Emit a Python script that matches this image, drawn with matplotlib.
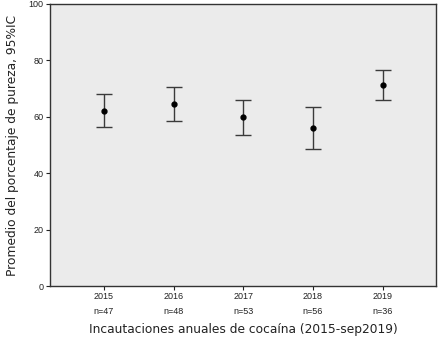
import matplotlib
matplotlib.use("Agg")
import matplotlib.pyplot as plt

years = ['2015', '2016', '2017', '2018', '2019']
counts = [47, 48, 53, 56, 36]
means = [62.2, 64.5, 59.8, 56.0, 71.3]
upper = [68.0, 70.5, 66.0, 63.6, 76.4]
lower = [56.3, 58.6, 53.5, 48.5, 66.0]

fig = plt.figure(figsize=(4.42, 3.54), dpi=100)
ax = fig.add_axes([0.113, 0.192, 0.873, 0.797])
ax.set_facecolor('#ebebeb')

x = list(range(len(years)))
err = [[m - l for m, l in zip(means, lower)], [u - m for u, m in zip(upper, means)]]
ax.errorbar(x, means, yerr=err, fmt='o', color='black', markersize=3.5,
            ecolor='#3a3a3a', elinewidth=1, capsize=6, capthick=1)

ax.set_xlim(-0.775, 4.765)
ax.set_ylim(0, 100)
ax.set_yticks([0, 20, 40, 60, 80, 100])
ax.set_xticks(x)
ax.set_xticklabels([f'{y}\nn={n}' for y, n in zip(years, counts)],
                   fontsize=6.5, family='Liberation Sans', linespacing=1.8)
for lab in ax.get_yticklabels():
    lab.set_fontsize(6.5)
    lab.set_family('Liberation Sans')
ax.tick_params(axis='both', direction='out', length=3, width=0.8, pad=1.5, colors='#222222')

for s in ax.spines.values():
    s.set_color('#333333')
    s.set_linewidth(1)

ax.set_xlabel('Incautaciones anuales de cocaína (2015-sep2019)', fontsize=8.8, color='#222222', labelpad=5)
ax.set_ylabel('Promedio del porcentaje de pureza, 95%IC', fontsize=8.8, color='#222222', labelpad=7)

fig.savefig('out.png', dpi=100)
